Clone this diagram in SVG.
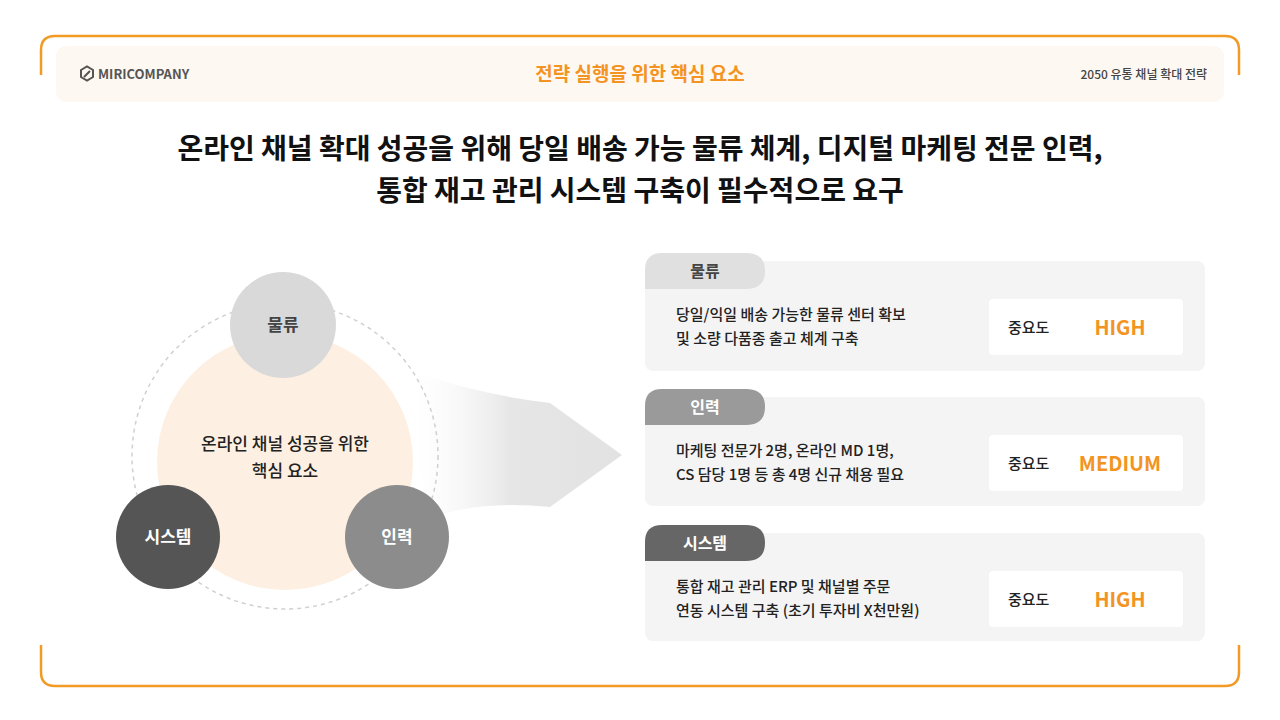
<svg xmlns="http://www.w3.org/2000/svg" width="1280" height="720" viewBox="0 0 1280 720">
<style>
text{font-family:"Noto Sans CJK KR","Noto Sans",sans-serif}
.card{fill:#f4f4f5}
.box{fill:#fff}
.body{font-size:15px;fill:#222;font-weight:500}
.lab{font-size:15px;fill:#222;font-weight:500}
.val{font-size:20px;fill:#f39422;font-weight:700}
.tab{font-size:16px;font-weight:700}
</style>
<defs>
<linearGradient id="ag" x1="0" x2="1" y1="0" y2="0">
<stop offset="0" stop-color="#fff" stop-opacity="0"/>
<stop offset="0.5" stop-color="#e6e6e6"/>
<stop offset="1" stop-color="#e2e2e2"/>
</linearGradient>
</defs>
<rect width="1280" height="720" fill="#fff"/>
<path d="M41 75 V50 Q41 36 55 36 H1225 Q1239 36 1239 50 V75" fill="none" stroke="#f39a25" stroke-width="2.5"/>
<path d="M41 645 V672 Q41 686 55 686 H1225 Q1239 686 1239 672 V645" fill="none" stroke="#f39a25" stroke-width="2.5"/>
<rect x="56" y="46" width="1168" height="56" rx="10" fill="#fef8f2"/>
<g id="logo">
<path d="M81 70 l6 -3.5 l6 3.5 v7 l-6 3.5 l-6 -3.5 z M84 77 l6 -6" fill="none" stroke="#555" stroke-width="2"/>
<text x="98" y="79" font-size="13" font-weight="700" fill="#555">MIRICOMPANY</text>
</g>
<text x="640" y="81" font-size="19" font-weight="700" fill="#f39422" text-anchor="middle">전략 실행을 위한 핵심 요소</text>
<text x="1207" y="79" font-size="12" font-weight="500" fill="#444" text-anchor="end">2050 유통 채널 확대 전략</text>
<text x="640" y="159" font-size="28" font-weight="700" fill="#111" text-anchor="middle">온라인 채널 확대 성공을 위해 당일 배송 가능 물류 체계, 디지털 마케팅 전문 인력,</text>
<text x="640" y="201" font-size="28" font-weight="700" fill="#111" text-anchor="middle">통합 재고 관리 시스템 구축이 필수적으로 요구</text>

<g id="connectors">
<path d="M400 368 Q480 395 550 403 L622 455 L550 507 Q480 500 430 518 Z" fill="url(#ag)"/>
</g>

<g id="core">
<circle cx="285" cy="456" r="153" fill="none" stroke="#d0d0d0" stroke-width="1.5" stroke-dasharray="4 4"/>
<circle cx="285" cy="462" r="128" fill="#fdf0e2"/>
<text x="285" y="450" font-size="17" font-weight="500" fill="#222" text-anchor="middle">온라인 채널 성공을 위한</text>
<text x="285" y="477" font-size="17" font-weight="500" fill="#222" text-anchor="middle">핵심 요소</text>
</g>
<g id="n-logistics"><circle cx="283" cy="325" r="53" fill="#d9d9d9"/><text x="283" y="331" font-size="17" font-weight="700" fill="#444" text-anchor="middle">물류</text></g>
<g id="n-system"><circle cx="168" cy="537" r="52" fill="#555"/><text x="168" y="543" font-size="17" font-weight="700" fill="#fff" text-anchor="middle">시스템</text></g>
<g id="n-people"><circle cx="397" cy="537" r="52" fill="#8c8c8c"/><text x="397" y="543" font-size="17" font-weight="700" fill="#fff" text-anchor="middle">인력</text></g>

<g id="card1">
<rect class="card" x="645" y="261" width="560" height="110" rx="8"/>
<path d="M645 289 V270 Q645 253 662 253 H746 Q765 253 765 271 Q765 289 746 289 Z" fill="#e0e0e0"/>
<text class="tab" x="705" y="277" fill="#444" text-anchor="middle">물류</text>
<text class="body" x="676" y="320">당일/익일 배송 가능한 물류 센터 확보</text>
<text class="body" x="676" y="344">및 소량 다품종 출고 체계 구축</text>
<rect class="box" x="989" y="299" width="194" height="56" rx="4"/>
<text class="lab" x="1008" y="333">중요도</text>
<text class="val" x="1120" y="335" text-anchor="middle">HIGH</text>
</g>
<g id="card2">
<rect class="card" x="645" y="397" width="560" height="109" rx="8"/>
<path d="M645 425 V406 Q645 389 662 389 H746 Q765 389 765 407 Q765 425 746 425 Z" fill="#9a9a9a"/>
<text class="tab" x="705" y="413" fill="#fff" text-anchor="middle">인력</text>
<text class="body" x="676" y="456">마케팅 전문가 2명, 온라인 MD 1명,</text>
<text class="body" x="676" y="480">CS 담당 1명 등 총 4명 신규 채용 필요</text>
<rect class="box" x="989" y="435" width="194" height="56" rx="4"/>
<text class="lab" x="1008" y="469">중요도</text>
<text class="val" x="1120" y="471" text-anchor="middle">MEDIUM</text>
</g>
<g id="card3">
<rect class="card" x="645" y="533" width="560" height="108" rx="8"/>
<path d="M645 561 V542 Q645 525 662 525 H746 Q765 525 765 543 Q765 561 746 561 Z" fill="#666"/>
<text class="tab" x="705" y="549" fill="#fff" text-anchor="middle">시스템</text>
<text class="body" x="676" y="592">통합 재고 관리 ERP 및 채널별 주문</text>
<text class="body" x="676" y="616">연동 시스템 구축 (초기 투자비 X천만원)</text>
<rect class="box" x="989" y="571" width="194" height="56" rx="4"/>
<text class="lab" x="1008" y="605">중요도</text>
<text class="val" x="1120" y="607" text-anchor="middle">HIGH</text>
</g>
</svg>
